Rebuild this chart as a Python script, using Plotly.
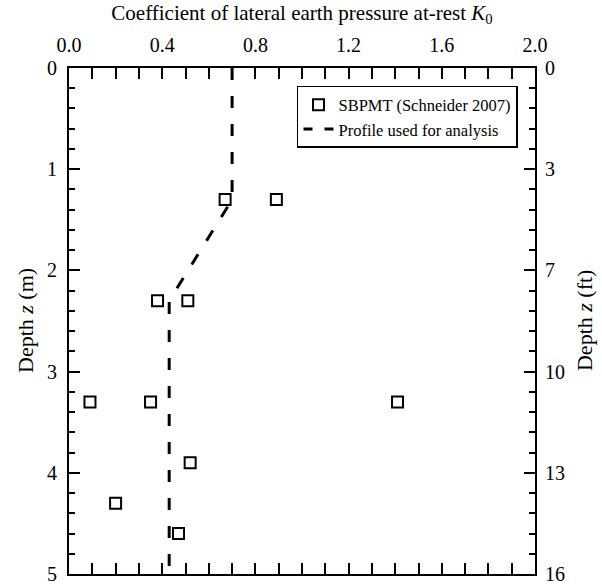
import plotly.graph_objects as go

# Data
sbpmt_k0 = [0.67, 0.89, 0.38, 0.51, 0.09, 0.35, 1.41, 0.52, 0.20, 0.47]
sbpmt_depth = [1.3, 1.3, 2.3, 2.3, 3.3, 3.3, 3.3, 3.9, 4.3, 4.6]

profile_k0 = [0.70, 0.70, 0.43, 0.43]
profile_depth = [0.0, 1.3, 2.3, 5.0]

depth_m_ticks = [0, 1, 2, 3, 4, 5]
depth_ft_labels = ["0", "3", "7", "10", "13", "16"]
k0_ticks = [0.0, 0.4, 0.8, 1.2, 1.6, 2.0]

FONT = "Liberation Serif, Times New Roman, serif"

fig = go.Figure()
fig.add_trace(go.Scatter(
    x=sbpmt_k0, y=sbpmt_depth, mode="markers",
    name="SBPMT (Schneider 2007)",
    marker=dict(symbol="square-open", size=11, color="black",
                line=dict(width=2, color="black")),
))
fig.add_trace(go.Scatter(
    x=profile_k0, y=profile_depth, mode="lines",
    name="Profile used for analysis", showlegend=False,
    line=dict(color="black", width=3, dash="12px,16px"),
))
# legend entry for the profile (dash pattern sized for the legend swatch)
fig.add_trace(go.Scatter(
    x=[None], y=[None], mode="lines",
    name="Profile used for analysis",
    line=dict(color="black", width=3, dash="9px,12px"),
))
# invisible trace to activate right axis
fig.add_trace(go.Scatter(
    x=[None], y=[None], yaxis="y2", showlegend=False, hoverinfo="skip",
))

axis_common = dict(
    showline=True, linecolor="black", linewidth=2,
    ticks="inside", ticklen=11, tickwidth=1.5, tickcolor="black",
    showgrid=False, zeroline=False, automargin=False,
    tickfont=dict(family=FONT, size=20, color="black"),
    ticklabeloverflow="allow",
)
minor_common = dict(ticklen=6, ticks="inside", tickwidth=1.5, tickcolor="black")

fig.update_layout(
    width=602, height=584,
    margin=dict(l=69, r=67, t=68, b=10),
    paper_bgcolor="white", plot_bgcolor="white",
    font=dict(family=FONT, size=19, color="black"),
    showlegend=True,
    legend=dict(
        x=0.9635, y=0.9646, xanchor="right", yanchor="top",
        bordercolor="black", borderwidth=1.5, bgcolor="white",
        font=dict(family=FONT, size=16.5, color="black"),
        tracegroupgap=0, itemwidth=30,
    ),
    xaxis=dict(
        **axis_common,
        side="top", range=[0, 2], tickvals=k0_ticks, tickformat=".1f",
        mirror="allticks", ticklabelstandoff=6,
        minor=dict(dtick=0.1, **minor_common),
        title=dict(text="Coefficient of lateral earth pressure at-rest <i>K</i><sub>0</sub>",
                   font=dict(family=FONT, size=21, color="black"), standoff=8),
    ),
    yaxis=dict(
        **axis_common,
        range=[5, 0], tickvals=depth_m_ticks, ticklabelstandoff=6,
        minor=dict(dtick=0.2, **minor_common),
    ),
    yaxis2=dict(
        **axis_common,
        overlaying="y", side="right", ticklabelstandoff=4,
        range=[5, 0], tickvals=depth_m_ticks, ticktext=depth_ft_labels,
        minor=dict(dtick=0.2, **minor_common),
    ),
    annotations=[
        dict(text="Depth <i>z</i> (m)", textangle=-90, showarrow=False,
             xref="paper", yref="paper", x=-0.0944, y=0.5,
             xanchor="center", yanchor="middle",
             font=dict(family=FONT, size=22, color="black")),
        dict(text="Depth <i>z</i> (ft)", textangle=-90, showarrow=False,
             xref="paper", yref="paper", x=1.1052, y=0.5,
             xanchor="center", yanchor="middle",
             font=dict(family=FONT, size=22, color="black")),
    ],
)

fig.write_html(
    "out.html",
    config=dict(displayModeBar=False),
    post_script="document.body.style.margin='0';document.body.style.overflow='hidden';",
)
